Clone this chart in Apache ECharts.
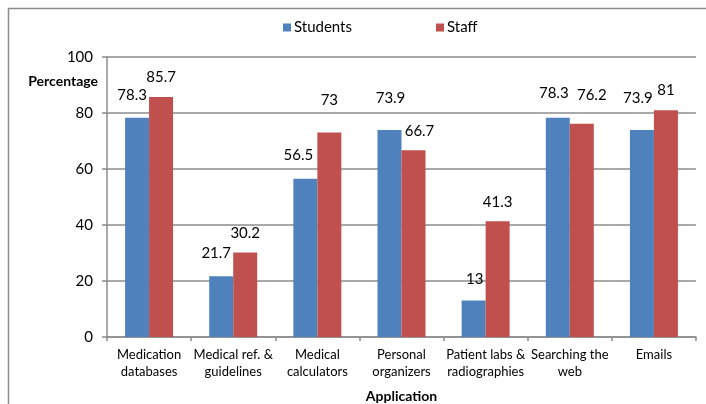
<!DOCTYPE html>
<html><head><meta charset="utf-8">
<script src="https://cdn.jsdelivr.net/npm/echarts@6/dist/echarts.min.js"></script>
<style>html,body{margin:0;padding:0;background:#fff}#c{width:706px;height:404px}</style>
</head><body><div id="c"></div>
<script>
const categories = ['Medication\ndatabases','Medical ref. &\nguidelines','Medical\ncalculators','Personal\norganizers','Patient labs &\nradiographies','Searching the\nweb','Emails'];
const students = [78.3, 21.7, 56.5, 73.9, 13, 78.3, 73.9];
const staff = [85.7, 30.2, 73, 66.7, 41.3, 76.2, 81];
const yTicks = [0, 20, 40, 60, 80, 100];
// label nudges (px) as placed in the original chart
const studentLabelNudge = [[-5,-23],[-5,-24],[-7,-24],[1,-32],[1,-22],[-4,-25],[-4,-32]];
const staffLabelNudge = [[0,-20],[0,-20],[0,-33],[6,-20],[0,-20],[10,-29],[0,-21]];

const FONT = 'Lato';
const withLabels = (vals, nudges) => vals.map((v, i) => ({
  value: v, label: {offset: [nudges[i][0], nudges[i][1] + 8]}
}));
const chart = echarts.init(document.getElementById('c'));
chart.setOption({
  animation: false,
  textStyle: {fontFamily: FONT},
  graphic: [
    {type: 'rect', shape: {x: 8.5, y: 8.5, width: 800, height: 500}, style: {fill: 'none', stroke: '#8c8c8c', lineWidth: 1.5}, silent: true},
    {type: 'text', x: 98, y: 81, style: {text: 'Percentage', font: 'bold 14px ' + FONT, fill: '#000', align: 'right', verticalAlign: 'middle'}}
  ],
  legend: {
    left: 278, top: 15, itemWidth: 8, itemHeight: 8, itemGap: 84, icon: 'rect',
    textStyle: {fontSize: 15, color: '#000', fontFamily: FONT, padding: [0,0,0,-2]},
    data: ['Students', 'Staff']
  },
  grid: {left: 107, right: 10, top: 57, bottom: 67, containLabel: false, outerBoundsMode: 'none'},
  xAxis: {
    type: 'category', data: categories,
    name: 'Application', nameLocation: 'middle', nameGap: 52,
    nameTextStyle: {fontWeight: 'bold', fontSize: 14, color: '#000'},
    axisLine: {lineStyle: {color: '#8c8c8c', width: 1.5}},
    axisTick: {show: true, length: 4, lineStyle: {color: '#8c8c8c', width: 1.5}},
    axisLabel: {color: '#000', fontSize: 13, margin: 9, lineHeight: 17, interval: 0}
  },
  yAxis: {
    type: 'value', min: 0, max: 100, interval: 20,
    axisLine: {show: true, lineStyle: {color: '#8c8c8c', width: 1.5}},
    axisTick: {show: true, length: 5, lineStyle: {color: '#8c8c8c', width: 1.5}},
    axisLabel: {color: '#000', fontSize: 15, margin: 14, formatter: v => yTicks.includes(v) ? String(v) : ''},
    splitLine: {lineStyle: {color: '#8c8c8c', width: 1.5}}
  },
  series: [
    {name: 'Students', type: 'bar', data: withLabels(students, studentLabelNudge), barWidth: 24, barGap: '0%',
     itemStyle: {color: '#4F81BD'},
     label: {show: true, position: 'top', distance: 0, color: '#000', fontSize: 15, fontFamily: FONT}},
    {name: 'Staff', type: 'bar', data: withLabels(staff, staffLabelNudge), barWidth: 24, barGap: '0%',
     itemStyle: {color: '#C0504D'},
     label: {show: true, position: 'top', distance: 0, color: '#000', fontSize: 15, fontFamily: FONT}}
  ]
});
</script></body></html>
